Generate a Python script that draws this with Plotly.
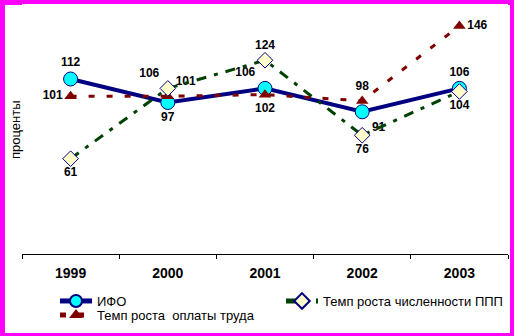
import plotly.graph_objects as go

years = ["1999", "2000", "2001", "2002", "2003"]
ifo = [112, 97, 106, 91, 106]
pay = [101, 101, 102, 98, 146]
staff = [61, 106, 124, 76, 104]

ifo_pos = ["top center", "bottom center", "top left", "bottom right", "top center"]
pay_pos = ["middle left", "top right", "bottom center", "top center", "middle right"]
staff_pos = ["bottom center", "top left", "top center", "bottom center", "bottom center"]

FONT = "Arial, Liberation Sans, sans-serif"
W, H = 514, 336
L, R, T, B = 22, 6, 4, 82
PW, PH = W - L - R, H - T - B

def px_to_paper(x, y):
    return (x - L) / PW, (H - B - y) / PH

lab_font = dict(family=FONT, size=12, color="black", weight="bold")

fig = go.Figure()
fig.add_trace(go.Scatter(
    x=years, y=ifo, name="ИФО", mode="lines+markers+text",
    line=dict(color="#000080", width=4),
    marker=dict(symbol="circle", size=14, color="#00FFFF", line=dict(color="#000080", width=1)),
    text=[str(v) for v in ifo], textposition=ifo_pos, textfont=lab_font,
    legend="legend", cliponaxis=False,
))
fig.add_trace(go.Scatter(
    x=years, y=pay, name="Темп роста  оплаты труда", mode="lines+markers+text",
    line=dict(color="#800000", width=3, dash="6px,12px"),
    marker=dict(symbol="triangle-up", size=11, color="#800000"),
    text=[str(v) for v in pay], textposition=pay_pos, textfont=lab_font,
    legend="legend2", cliponaxis=False,
))
fig.add_trace(go.Scatter(
    x=years, y=staff, name="Темп роста численности ППП", mode="lines+markers+text",
    line=dict(color="#004000", width=3, dash="10px,8px,4px,8px"),
    marker=dict(symbol="diamond", size=12, color="#FFFFCC", line=dict(color="#000080", width=1)),
    text=[str(v) for v in staff], textposition=staff_pos, textfont=lab_font,
    legend="legend3", cliponaxis=False,
))

x0, y0 = px_to_paper(5, 333)
x1, y1 = px_to_paper(510, 5)
lx1, ly1 = px_to_paper(55, 301)
lx2, ly2 = px_to_paper(55, 315)
lx3, ly3 = px_to_paper(281, 301)
tx, ty = px_to_paper(15, 130)

leg_common = dict(font=dict(family=FONT, size=13, color="black"), bgcolor="rgba(0,0,0,0)",
                  yanchor="middle", xanchor="left", borderwidth=0,
                  itemsizing="constant", itemwidth=32)

fig.update_layout(
    width=W, height=H,
    margin=dict(l=L, r=R, t=T, b=B, pad=0),
    paper_bgcolor="#FF00FF", plot_bgcolor="white",
    showlegend=True,
    legend=dict(x=lx1, y=ly1, **leg_common),
    legend2=dict(x=lx2, y=ly2, **leg_common),
    legend3=dict(x=lx3, y=ly3, **leg_common),
    xaxis=dict(type="category", range=[-0.5, 4.5], showgrid=False, zeroline=False,
               showline=True, linecolor="black", linewidth=1,
               ticks="outside", tickson="boundaries", ticklen=4, tickcolor="black",
               tickfont=dict(family=FONT, size=14, color="black", weight="bold"),
               ticklabelstandoff=6),
    yaxis=dict(range=[0, 160], showgrid=False, zeroline=False, showline=False,
               showticklabels=False, ticks=""),
    shapes=[dict(type="rect", xref="paper", yref="paper", x0=x0, x1=x1, y0=y0, y1=y1,
                 fillcolor="white", line=dict(width=0), layer="below")],
    annotations=[dict(text="проценты", xref="paper", yref="paper", x=tx, y=ty,
                      xanchor="center", yanchor="middle",
                      textangle=-90, showarrow=False,
                      font=dict(family=FONT, size=13, color="black"))],
)

fig.write_html("out.html")
